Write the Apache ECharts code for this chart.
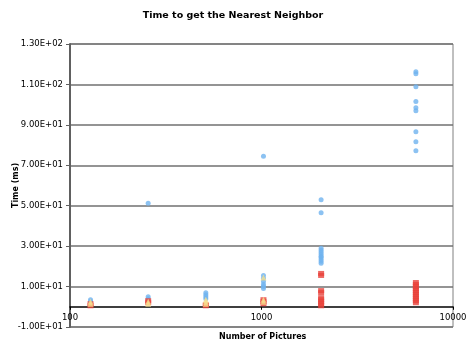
<!DOCTYPE html>
<html><head><meta charset="utf-8">
<script src="https://cdn.jsdelivr.net/npm/echarts@6/dist/echarts.min.js"></script>
<style>html,body{margin:0;padding:0;background:#fff}#c{width:466px;height:343px}</style>
</head><body><div id="c"></div>
<script>
// Data
const blueX = [128,128, 256,256,256, 512,512,512,512, 1024,1024,1024,1024,1024,1024,1024,
  2048,2048,2048,2048,2048,2048,2048,2048,2048,2048,2048, 6400,6400,6400,6400,6400,6400,6400,6400,6400];
const blueY = [3.5,2.5, 5.0,4.0,51.2, 7.0,6.0,5.0,4.0, 15.5,14.0,12.5,11.0,10.0,9.0,74.5,
  53,46.5,29,28,27,26,25,24.5,23.5,22.5,21.5, 116.3,115.3,108.9,101.5,98.5,97,86.6,81.7,77.2];
const redX = [128,128, 256,256, 512,512, 1024,1024,1024,
  2048,2048,2048,2048,2048,2048,2048,2048,2048, 6400,6400,6400,6400,6400,6400,6400,6400,6400,6400,6400];
const redY = [0.5,1.5, 2.0,3.0, 0.5,1.0, 3.5,2.5,1.5,
  16.5,15.5,8,7,4.5,3.5,2.5,1.5,0.5, 12,11,10,9,8,7,6,5,4,3,2];
const yellowX = [128,128, 256,256, 512,512,512, 1024,1024,1024];
const yellowY = [1.5,2.5, 1.5,2.5, 1.5,2.5,3.5, 2.5,3.5,14.5];
const yMin = -10, yMax = 130, yStep = 20;
const xTicks = [100, 1000, 10000];

function pairs(xs, ys){ return xs.map((x,i)=>[x, ys[i]]); }
function sci(v){
  const s = Number(v).toExponential(2).toUpperCase();
  const m = s.match(/^(-?[\d.]+)E([+-])(\d+)$/);
  return m[1] + 'E' + m[2] + (m[3].length < 2 ? '0' + m[3] : m[3]);
}
const font = 'DejaVu Sans, Verdana, sans-serif';
const chart = echarts.init(document.getElementById('c'));
chart.setOption({
  animation: false,
  backgroundColor: '#fff',
  title: [
    {text: 'Time to get the Nearest Neighbor', left: 'center', top: 11, padding: 0,
     textStyle: {fontFamily: font, fontSize: 9.5, fontWeight: 'bold', color: '#000'}},
    {text: 'Number of Pictures', left: 219, top: 333, padding: 0,
     textStyle: {fontFamily: font, fontSize: 8, fontWeight: 'bold', color: '#000'}}
  ],
  grid: {left: 70, right: 13, top: 44, bottom: 16, outerBoundsMode: 'none', containLabel: false,
         show: true, borderColor: '#808080', borderWidth: 1},
  xAxis: {
    type: 'log', logBase: 10, min: 100, max: 10000,
    axisLine: {onZero: true, lineStyle: {color: '#000', width: 1.5}},
    axisTick: {show: true, inside: false, length: 3, lineStyle: {color: '#000'}},
    minorTick: {show: false},
    splitLine: {show: false},
    axisLabel: {fontFamily: font, fontSize: 8.5, color: '#000', margin: -14,
      formatter: v => xTicks.includes(Math.round(v)) ? String(Math.round(v)) : ''}
  },
  yAxis: {
    type: 'value', min: yMin, max: yMax, interval: yStep,
    name: 'Time (ms)', nameLocation: 'middle', nameGap: 50, nameRotate: 90, nameMoveOverlap: false,
    nameTextStyle: {fontFamily: font, fontSize: 8, fontWeight: 'bold', color: '#000'},
    axisLine: {show: true, onZero: false, lineStyle: {color: '#606060', width: 2}},
    axisTick: {show: true, length: 4, lineStyle: {color: '#606060'}},
    splitLine: {show: true, lineStyle: {color: '#707070', width: 1.5}},
    axisLabel: {fontFamily: font, fontSize: 8.5, color: '#000', margin: 7, formatter: sci}
  },
  series: [
    {type: 'scatter', data: pairs(blueX, blueY), symbol: 'circle', symbolSize: 5,
     itemStyle: {color: '#6fb3ef'}},
    {type: 'scatter', data: pairs(redX, redY), symbol: 'rect', symbolSize: [6,5],
     itemStyle: {color: '#e8423b'}},
    {type: 'scatter', data: pairs(yellowX, yellowY), symbol: 'triangle', symbolSize: 6,
     itemStyle: {color: '#f6e08f'}}
  ]
});
</script></body></html>
